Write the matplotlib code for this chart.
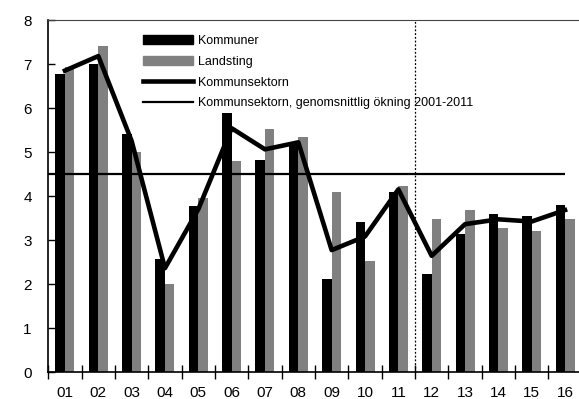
import numpy as np
import matplotlib
matplotlib.use("Agg")
import matplotlib.pyplot as plt
from matplotlib.patches import Patch
from matplotlib.lines import Line2D

plt.rcParams['font.family'] = ['Liberation Sans', 'DejaVu Sans']

# data
years = ['01', '02', '03', '04', '05', '06', '07', '08',
         '09', '10', '11', '12', '13', '14', '15', '16']
kommuner = [6.77, 7.01, 5.42, 2.56, 3.78, 5.88, 4.82, 5.20,
            2.11, 3.42, 4.10, 2.23, 3.13, 3.58, 3.55, 3.80]
landsting = [6.93, 7.42, 4.99, 2.01, 3.95, 4.80, 5.52, 5.33,
             4.10, 2.53, 4.22, 3.47, 3.68, 3.27, 3.20, 3.47]
kommunsektorn = [6.85, 7.18, 5.25, 2.36, 3.70, 5.54, 5.06, 5.22,
                 2.77, 3.08, 4.15, 2.64, 3.36, 3.47, 3.42, 3.68]
snitt_2001_2011 = 4.5

x = np.arange(len(years))
w = 0.285

fig = plt.figure(figsize=(5.79, 3.99), dpi=100)
ax = fig.add_axes([48.3 / 579, 27 / 399, 533.4 / 579, 352 / 399])

ax.bar(x - w / 2, kommuner, width=w, color='black', zorder=2)
ax.bar(x + w / 2, landsting, width=w, color='#808080', zorder=2)
ax.plot(x, kommunsektorn, color='black', lw=3.3, zorder=4)
ax.hlines(snitt_2001_2011, -0.5, x[-1], color='black', lw=1.6, zorder=3)
ax.axvline(10.5, color='black', lw=0.9, ls=(0, (1.5, 1.5)), zorder=3)

ax.set_xlim(-0.5, len(years) - 0.5)
ax.set_ylim(0, 8)

# category boundaries as major ticks, labels on minor ticks
ax.set_xticks(np.arange(len(years) + 1) - 0.5)
ax.set_xticklabels([])
ax.set_xticks(x, minor=True)
ax.set_xticklabels(years, minor=True)
ax.tick_params(axis='x', which='major', direction='inout', length=10, width=1)
ax.tick_params(axis='x', which='minor', length=0, pad=10, labelsize=11)
ax.set_yticks(range(9))
ax.tick_params(axis='y', direction='in', length=5, width=1, labelsize=11, pad=12)

ax.spines['right'].set_visible(False)
ax.spines['top'].set_color('#444444')
for s in ['left', 'bottom']:
    ax.spines[s].set_linewidth(1.2)

handles = [Patch(color='black'), Patch(color='#808080'),
           Line2D([], [], color='black', lw=3.3),
           Line2D([], [], color='black', lw=1.6)]
labels = ['Kommuner', 'Landsting', 'Kommunsektorn',
          'Kommunsektorn, genomsnittlig ökning 2001-2011']
ax.legend(handles, labels, loc='upper left', bbox_to_anchor=(0.1775, 0.957),
          frameon=False, fontsize=9, handlelength=4.0, handleheight=0.7,
          handletextpad=0.4, labelspacing=0.7, borderpad=0, borderaxespad=0)

fig.savefig('out.png', dpi=100)
